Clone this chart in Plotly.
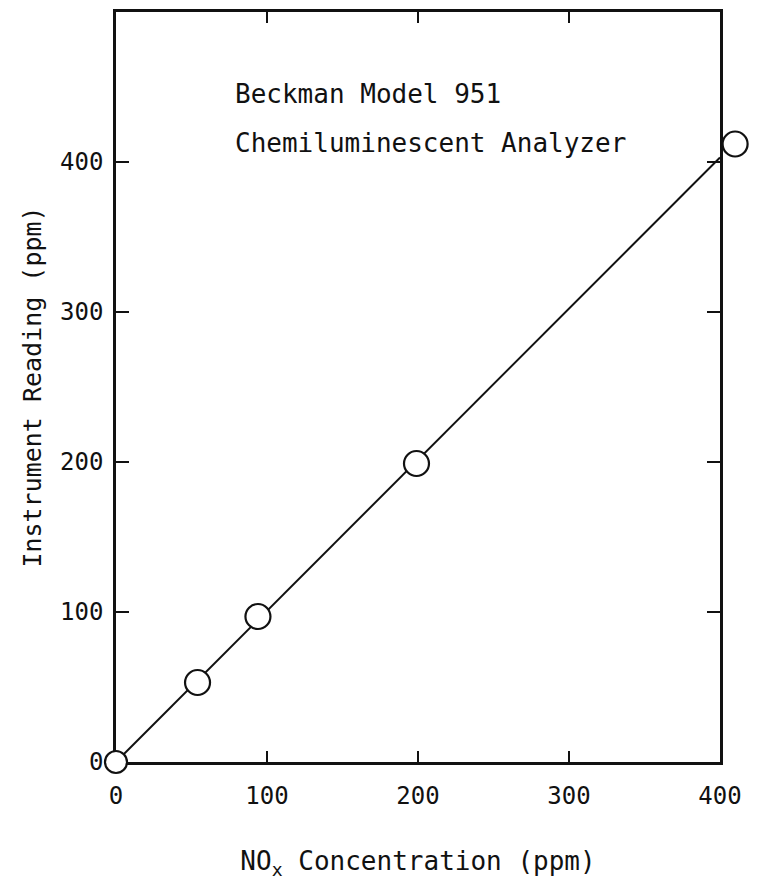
import plotly.graph_objects as go

# Data
nox_ppm = [0, 54, 94, 199, 410]
reading_ppm = [0, 53, 97, 199, 412]
fit_x = [0, 400]
fit_y = [0, 403]
x_ticks = [0, 100, 200, 300, 400]
y_ticks = [0, 100, 200, 300, 400]
x_range = [0, 400]
y_range = [0, 500]

FONT = "DejaVu Sans Mono"
INK = "#111"

W, H = 761, 881
ML, MR, MT, MB = 116, 5, 12, 119
frame_right = 720
plot_w = W - ML - MR
dom_end = (frame_right - ML) / plot_w
x2_range = [x_range[0], x_range[0] + (x_range[1] - x_range[0]) / dom_end]

fig = go.Figure()
# Invisible trace so the framed subplot (x/y) with its axes is created.
fig.add_trace(go.Scatter(
    x=fit_x, y=fit_y, mode="lines", xaxis="x", yaxis="y",
    line=dict(color="rgba(0,0,0,0)", width=0), showlegend=False,
    hoverinfo="skip"))
# Data traces live on a subplot spanning the whole plotting width,
# so the last point (beyond 400) is still drawn outside the frame.
fig.add_trace(go.Scatter(
    x=fit_x, y=fit_y, mode="lines", xaxis="x2", yaxis="y2",
    line=dict(color=INK, width=2), showlegend=False, cliponaxis=False))
fig.add_trace(go.Scatter(
    x=nox_ppm, y=reading_ppm, mode="markers", xaxis="x2", yaxis="y2",
    marker=dict(symbol="circle", size=[22, 25, 25, 25, 25], color="white",
                opacity=1, line=dict(color=INK, width=2.2)),
    showlegend=False, cliponaxis=False))

fig.add_annotation(x=0.194, y=0.8907, xref="x domain", yref="y domain",
                   text="Beckman Model 951", showarrow=False,
                   xanchor="left", yanchor="middle",
                   font=dict(family=FONT, size=26, color=INK))
fig.add_annotation(x=0.194, y=0.8253, xref="x domain", yref="y domain",
                   text="Chemiluminescent Analyzer", showarrow=False,
                   xanchor="left", yanchor="middle",
                   font=dict(family=FONT, size=26, color=INK))

fig.update_layout(
    width=W, height=H,
    margin=dict(l=ML, r=MR, t=MT, b=MB, autoexpand=False),
    paper_bgcolor="white", plot_bgcolor="rgba(0,0,0,0)",
    font=dict(family=FONT, size=24, color=INK),
    xaxis=dict(
        domain=[0, dom_end], anchor="y", automargin=False,
        range=x_range, tickvals=x_ticks, ticktext=[str(v) for v in x_ticks],
        showgrid=False, zeroline=False,
        showline=True, linecolor=INK, linewidth=2.5, mirror="ticks",
        ticks="inside", ticklen=11, tickwidth=2, tickcolor=INK,
        ticklabelstandoff=10,
        tickfont=dict(family=FONT, size=24),
        title=dict(text="NO<sub>x</sub> Concentration (ppm)",
                   font=dict(family=FONT, size=26), standoff=44),
    ),
    yaxis=dict(
        domain=[0, 1], anchor="x", automargin=False,
        range=y_range, tickvals=y_ticks, ticktext=[str(v) for v in y_ticks],
        showgrid=False, zeroline=False,
        showline=True, linecolor=INK, linewidth=2.5, mirror="ticks",
        ticks="inside", ticklen=13, tickwidth=2, tickcolor=INK,
        ticklabelstandoff=5,
        tickfont=dict(family=FONT, size=24),
        title=dict(text="Instrument Reading (ppm)",
                   font=dict(family=FONT, size=25), standoff=12),
    ),
    xaxis2=dict(
        domain=[0, 1], anchor="y2", automargin=False,
        range=x2_range, visible=False, showgrid=False, zeroline=False,
    ),
    yaxis2=dict(
        domain=[0, 1], anchor="x2", automargin=False, range=y_range,
        visible=False, showgrid=False, zeroline=False,
    ),
)

fig.write_html("out.html")
